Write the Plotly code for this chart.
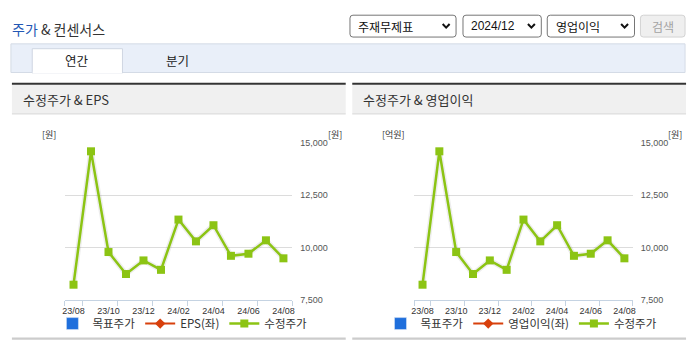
import plotly.graph_objects as go

# ---------------- data ----------------
months = ["23/08", "23/09", "23/10", "23/11", "23/12", "24/01", "24/02",
          "24/03", "24/04", "24/05", "24/06", "24/07", "24/08"]
adj_price = [8230, 14600, 9790, 8740, 9390, 8940, 11340,
             10300, 11070, 9610, 9710, 10350, 9490]
target_price = [None] * 13     # no values shown in the chart
eps = [None] * 13              # no values shown in the chart
op_income = [None] * 13        # no values shown in the chart
y_ticks = [7500, 10000, 12500, 15000]
label_every = 2

W, H = 695, 349
def X(p): return p / W
def Y(p): return 1 - p / H

KR = "Noto Sans CJK KR"
NUM = "Liberation Sans, Noto Sans CJK KR"
GREEN = "#8cc414"
BLUE = "#1f6fdc"
RED = "#d8400c"

xs = list(range(len(months)))
tickvals = xs[::label_every]
ticktext = [months[i] for i in tickvals]
minor_vals = [-0.5] + [i + 0.5 for i in range(0, len(months) - 1, label_every)] + [len(months) - 0.5]

fig = go.Figure()

panels = [
    dict(xa="x", ya="y", leg="legend", second="EPS(좌)", secdata=eps),
    dict(xa="x2", ya="y2", leg="legend2", second="영업이익(좌)", secdata=op_income),
]

for p in panels:
    fig.add_trace(go.Bar(x=xs, y=target_price, name="목표주가", marker_color=BLUE,
                         xaxis=p["xa"], yaxis=p["ya"], legend=p["leg"], showlegend=True))
    fig.add_trace(go.Scatter(x=xs, y=p["secdata"], name=p["second"], mode="lines+markers",
                             line=dict(color=RED, width=2), marker=dict(symbol="diamond", size=8, color=RED),
                             xaxis=p["xa"], yaxis=p["ya"], legend=p["leg"], showlegend=True))
    # soft shadow under the price line
    fig.add_trace(go.Scatter(x=xs, y=adj_price, mode="lines", line=dict(color="rgba(0,0,0,0.07)", width=5.5),
                             xaxis=p["xa"], yaxis=p["ya"], showlegend=False, hoverinfo="skip"))
    fig.add_trace(go.Scatter(x=xs, y=adj_price, name="수정주가", mode="lines+markers",
                             line=dict(color=GREEN, width=2.5),
                             marker=dict(symbol="square", size=8, color=GREEN),
                             xaxis=p["xa"], yaxis=p["ya"], legend=p["leg"], showlegend=True,
                             cliponaxis=False))

axis_common_x = dict(range=[-0.5, len(months) - 0.5], tickmode="array", tickvals=tickvals, ticktext=ticktext,
                     ticks="", showgrid=False, zeroline=False, showline=True, linecolor="#c5d3e2", linewidth=1,
                     tickfont=dict(family=NUM, size=9, color="#333"), ticklabelstandoff=2,
                     minor=dict(tickmode="array", tickvals=minor_vals, ticks="outside", ticklen=5,
                                tickcolor="#c5d3e2", tickwidth=1, showgrid=False),
                     fixedrange=True)
axis_common_y = dict(range=[7500, 15000], tickmode="array", tickvals=y_ticks, tickformat=",",
                     side="right", showgrid=True, gridcolor="#dcdcdc", gridwidth=1, zeroline=False,
                     showline=False, ticks="", tickfont=dict(family=NUM, size=9, color="#555"),
                     ticklabelstandoff=7, fixedrange=True)

ydom = [Y(303.7), Y(142)]
fig.update_layout(
    xaxis=dict(domain=[X(62.3), X(291.7)], anchor="y", **axis_common_x),
    yaxis=dict(domain=ydom, anchor="x", **axis_common_y),
    xaxis2=dict(domain=[X(414.7), X(635.3)], anchor="y2", **axis_common_x),
    yaxis2=dict(domain=ydom, anchor="x2", **axis_common_y),
)

leg_common = dict(orientation="h", yanchor="middle", y=Y(328), xanchor="center",
                  font=dict(family=KR, size=11.5, color="#333"), bgcolor="rgba(0,0,0,0)",
                  itemwidth=30, tracegroupgap=0, itemclick=False, itemdoubleclick=False)
fig.update_layout(legend=dict(x=X(181), **leg_common), legend2=dict(x=X(523), **leg_common))

shapes = []
def rect(x0, y0, x1, y1, fill, line=None, lw=1, layer="below"):
    shapes.append(dict(type="rect", xref="paper", yref="paper", x0=X(x0), x1=X(x1), y0=Y(y1), y1=Y(y0),
                       fillcolor=fill, line=dict(color=line or fill, width=lw if line else 0), layer=layer))

def rrect(x0, y0, x1, y1, r, fill, line, lw=1):
    pts = (f"M{X(x0+r)},{Y(y0)} L{X(x1-r)},{Y(y0)} Q{X(x1)},{Y(y0)} {X(x1)},{Y(y0+r)} "
           f"L{X(x1)},{Y(y1-r)} Q{X(x1)},{Y(y1)} {X(x1-r)},{Y(y1)} L{X(x0+r)},{Y(y1)} "
           f"Q{X(x0)},{Y(y1)} {X(x0)},{Y(y1-r)} L{X(x0)},{Y(y0+r)} Q{X(x0)},{Y(y0)} {X(x0+r)},{Y(y0)} Z")
    shapes.append(dict(type="path", xref="paper", yref="paper", path=pts, fillcolor=fill,
                       line=dict(color=line, width=lw), layer="below"))

def chevron(cx, cy):
    pts = f"M{X(cx-3.5)},{Y(cy-2)} L{X(cx)},{Y(cy+1.8)} L{X(cx+3.5)},{Y(cy-2)}"
    shapes.append(dict(type="path", xref="paper", yref="paper", path=pts,
                       line=dict(color="#111", width=2), layer="above"))

# dropdowns and button
rrect(350, 10.5, 457, 33, 3, "#fff", "#767676")
rrect(464, 10.5, 543, 33, 3, "#fff", "#767676")
rrect(549, 10.5, 637, 33, 3, "#fff", "#767676")
rrect(643, 10.5, 688, 33, 3, "#efefef", "#d3d3d3")
chevron(447, 21.5); chevron(533, 21.5); chevron(627, 21.5)

# tab bar
rect(8, 40, 688, 69.5, "#e9eff9", "#d4dbe6")
rect(29.5, 45, 120.5, 70, "#ffffff", "#cfd6e2")
rect(30, 68.5, 120, 70.5, "#ffffff")

# chart panels
for (a, b) in [(9, 345.7), (352.3, 689)]:
    rect(a, 82, b, 112, "#f0f0f0")
    rect(a, 80, b, 82, "#333333")
    rect(a, 111.5, b, 112.8, "#dddddd")
    rect(a, 342.3, b, 344.5, "#cccccc")
fig.update_layout(shapes=shapes)

ann = []
def text(x, y, s, size, color="#333", family=KR, xanchor="left"):
    ann.append(dict(xref="paper", yref="paper", x=X(x), y=Y(y), text=s, showarrow=False,
                    xanchor=xanchor, yanchor="middle", font=dict(family=family, size=size, color=color)))

text(7, 24.5, "<span style='color:#2357b4'>주가</span> &amp; 컨센서스", 14, "#333")
text(356, 21.7, "주재무제표", 12, "#111")
text(470, 21.7, "2024/12", 12, "#111", family=NUM)
text(556, 21.7, "영업이익", 12, "#111")
text(665.5, 21.7, "검색", 12, "#a3a3a3", xanchor="center")
text(75, 57.5, "연간", 12.5, "#222", xanchor="center")
text(176, 57.5, "분기", 12.5, "#222", xanchor="center")
text(18, 97.5, "수정주가 &amp; EPS", 13, "#333")
text(361.5, 97.5, "수정주가 &amp; 영업이익", 13, "#333")
text(46.5, 133, "[원]", 9, "#333", xanchor="center")
text(335, 133, "[원]", 9, "#333", xanchor="center")
text(394.3, 133, "[억원]", 9, "#333", xanchor="center")
text(678.3, 133, "[원]", 9, "#333", xanchor="center")
fig.update_layout(annotations=ann)

fig.update_layout(width=W, height=H, autosize=False, margin=dict(l=0, r=0, t=0, b=0, pad=0),
                  paper_bgcolor="#ffffff", plot_bgcolor="#ffffff", barmode="group",
                  font=dict(family=KR, color="#333"))

fig.write_html("out.html", config={"displayModeBar": False},
               post_script=("document.documentElement.style.margin='0';document.body.style.margin='0';"
                            "document.body.style.padding='0';document.body.style.overflow='hidden';"
                            "var d=document.getElementById('{plot_id}');d.style.position='fixed';"
                            "d.style.left='0px';d.style.top='0px';"))
